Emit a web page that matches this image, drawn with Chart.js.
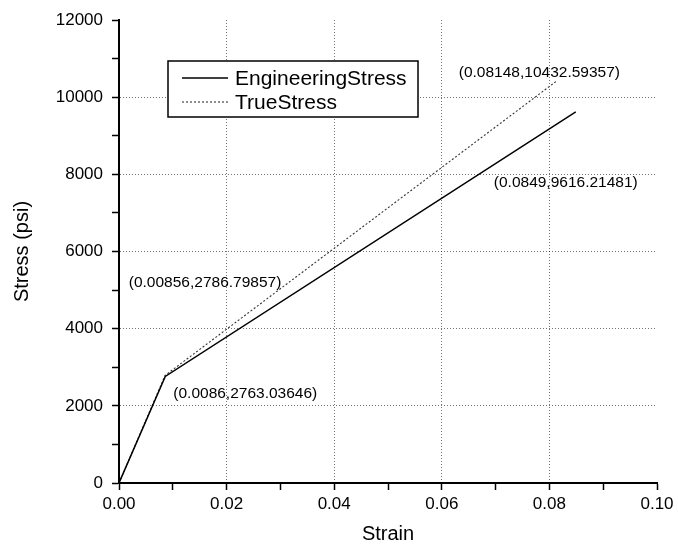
<!DOCTYPE html>
<html>
<head>
<meta charset="utf-8">
<script src="https://cdn.jsdelivr.net/npm/chart.js@4/dist/chart.umd.min.js"></script>
<style>
  html, body { margin: 0; padding: 0; background: #fff; }
  #wrap { width: 678px; height: 547px; }
</style>
</head>
<body>
<div id="wrap"><canvas id="stress-chart"></canvas></div>
<script>
// data
const seriesNames = ['EngineeringStress', 'TrueStress'];
const engStrain = [0, 0.0086, 0.0849];
const engStress = [0, 2763.03646, 9616.21481];
const trueStrain = [0, 0.00856, 0.08148];
const trueStress = [0, 2786.79857, 10432.59357];
const xTickLabels = ['0.00', '0.02', '0.04', '0.06', '0.08', '0.10'];
const yTickLabels = ['0', '2000', '4000', '6000', '8000', '10000', '12000'];

const FONT = '"Liberation Sans", Arial, Helvetica, sans-serif';

const toPoints = (xs, ys) => xs.map((x, i) => ({ x: x, y: ys[i] }));

// labelled points: [dataset, index, dx, dy]
const callouts = [
    [1, 2, -18, -8],
    [0, 2, -10, 71],
    [1, 1, 40, -93],
    [0, 1, 80, 17]
];

const calloutPlugin = {
    id: 'callouts',
    afterDatasetsDraw(chart) {
        const ctx = chart.ctx;
        const xs = chart.scales.x, ys = chart.scales.y;
        const sets = [[engStrain, engStress], [trueStrain, trueStress]];
        ctx.save();
        ctx.font = '15.5px ' + FONT;
        ctx.fillStyle = '#000';
        ctx.textAlign = 'center';
        ctx.textBaseline = 'middle';
        callouts.forEach(([d, i, dx, dy]) => {
            const vx = sets[d][0][i], vy = sets[d][1][i];
            ctx.fillText('(' + vx + ',' + vy + ')', xs.getPixelForValue(vx) + dx, ys.getPixelForValue(vy) + dy);
        });
        ctx.restore();
    }
};

const legendBoxPlugin = {
    id: 'legendBox',
    afterDatasetsDraw(chart) {
        const ctx = chart.ctx;
        ctx.save();
        ctx.fillStyle = '#fff';
        ctx.fillRect(168, 61, 250, 56);
        ctx.strokeStyle = '#000';
        ctx.lineWidth = 1.5;
        ctx.strokeRect(168, 61, 250, 56);
        ctx.font = '21px ' + FONT;
        ctx.textBaseline = 'middle';
        ctx.fillStyle = '#000';
        chart.data.datasets.forEach((ds, i) => {
            const y = 78 + i * 24;
            ctx.beginPath();
            ctx.setLineDash(ds.borderDash || []);
            ctx.strokeStyle = ds.borderColor;
            ctx.lineWidth = ds.borderWidth;
            ctx.moveTo(182, y);
            ctx.lineTo(228, y);
            ctx.stroke();
            ctx.setLineDash([]);
            ctx.fillText(ds.label, 235, y + 1);
        });
        ctx.restore();
    }
};

const isMajorX = v => Math.round(v * 100) % 2 === 0;
const isMajorY = v => Math.round(v / 1000) % 2 === 0;

const ctx = document.getElementById('stress-chart').getContext('2d');
new Chart(ctx, {
    type: 'line',
    data: {
        datasets: [{
            label: seriesNames[0],
            data: toPoints(engStrain, engStress),
            borderColor: '#000',
            borderWidth: 1.5,
            pointRadius: 0,
            tension: 0
        }, {
            label: seriesNames[1],
            data: toPoints(trueStrain, trueStress),
            borderColor: '#333',
            borderWidth: 1.1,
            borderDash: [2, 2],
            pointRadius: 0,
            tension: 0
        }]
    },
    options: {
        responsive: true,
        maintainAspectRatio: false,
        animation: false,
        layout: { padding: { top: 20, right: 21, left: 0, bottom: 0 } },
        plugins: {
            legend: { display: false },
            tooltip: { enabled: false }
        },
        scales: {
            x: {
                type: 'linear',
                min: 0,
                max: 0.1,
                afterFit: s => { s.height = 64; },
                ticks: {
                    stepSize: 0.01,
                    autoSkip: false,
                    maxRotation: 0,
                    padding: 4,
                    color: '#000',
                    font: { family: FONT, size: 17 },
                    callback: v => isMajorX(v) ? xTickLabels[Math.round(v * 50)] : ''
                },
                grid: {
                    drawOnChartArea: true,
                    tickLength: 7,
                    tickWidth: 1.5,
                    tickColor: '#000',
                    color: c => {
                        const v = c.tick ? c.tick.value : 0;
                        return (isMajorX(v) && v > 0.001 && v < 0.099) ? 'rgba(0,0,0,0.55)' : 'rgba(0,0,0,0)';
                    }
                },
                border: { display: true, color: '#000', width: 2, dash: [1, 2] },
                title: {
                    display: true,
                    text: 'Strain',
                    color: '#000',
                    font: { family: FONT, size: 20 },
                    padding: { top: 0, bottom: 1 }
                }
            },
            y: {
                min: 0,
                max: 12000,
                afterFit: s => { s.width = 119; },
                ticks: {
                    stepSize: 1000,
                    autoSkip: false,
                    padding: 9,
                    color: '#000',
                    font: { family: FONT, size: 17 },
                    callback: v => isMajorY(v) ? yTickLabels[Math.round(v / 2000)] : ''
                },
                grid: {
                    drawOnChartArea: true,
                    tickLength: 7,
                    tickWidth: 1.5,
                    tickColor: '#000',
                    color: c => {
                        const v = c.tick ? c.tick.value : 0;
                        return (isMajorY(v) && v > 0 && v < 12000) ? 'rgba(0,0,0,0.55)' : 'rgba(0,0,0,0)';
                    }
                },
                border: { display: true, color: '#000', width: 2, dash: [1, 2] },
                title: {
                    display: true,
                    text: 'Stress (psi)',
                    color: '#000',
                    font: { family: FONT, size: 20 },
                    padding: { top: 10, bottom: 0 }
                }
            }
        }
    },
    plugins: [calloutPlugin, legendBoxPlugin]
});
</script>
</body>
</html>
